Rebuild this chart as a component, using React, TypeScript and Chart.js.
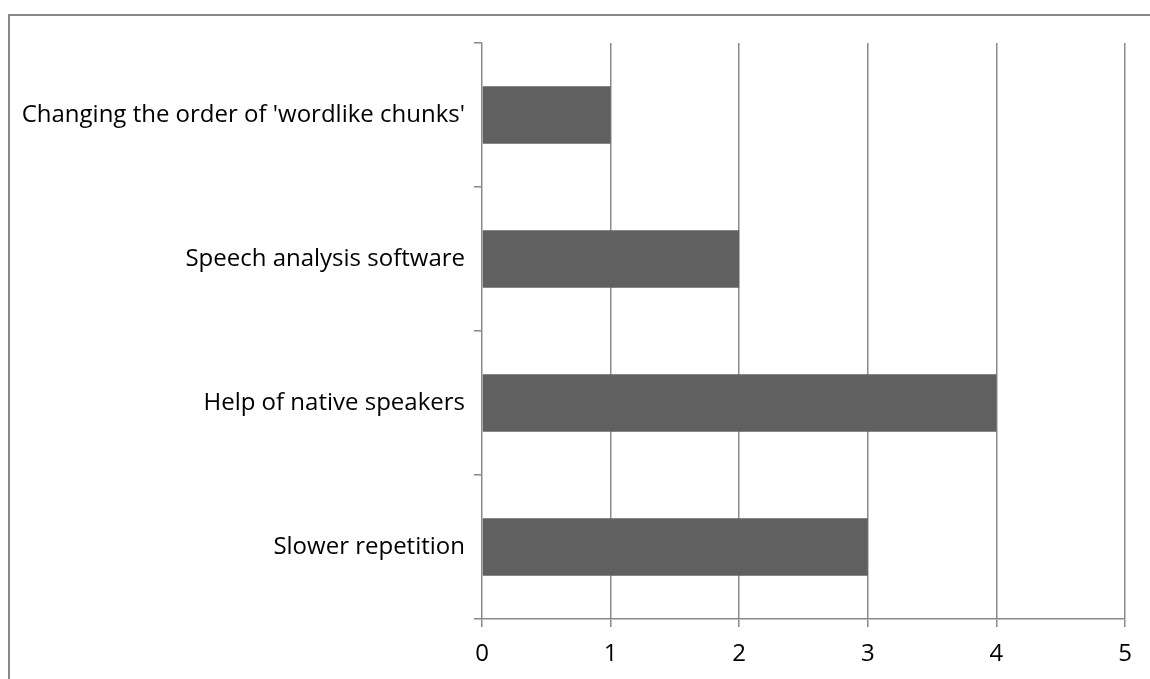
import React, { useEffect, useRef } from "react";
import { Chart, registerables } from "chart.js";

Chart.register(...registerables);

const categories = [
  "Changing the order of 'wordlike chunks'",
  "Speech analysis software",
  "Help of native speakers",
  "Slower repetition",
];
const values = [1, 2, 4, 3];
const xTicks = [0, 1, 2, 3, 4, 5];

const GRID = "#898989";
const BAR = "#606060";
const FONT = "'Open Sans', sans-serif";

export default function App() {
  const ref = useRef<HTMLCanvasElement | null>(null);

  useEffect(() => {
    if (!ref.current) return;
    const chart = new Chart(ref.current, {
      type: "bar",
      data: {
        labels: categories,
        datasets: [
          {
            data: values,
            backgroundColor: BAR,
            borderWidth: 0,
            categoryPercentage: 1,
            barPercentage: 0.4,
          },
        ],
      },
      options: {
        indexAxis: "y",
        animation: false,
        responsive: false,
        maintainAspectRatio: false,
        layout: { padding: { top: 43, right: 25, left: 0, bottom: 0 } },
        plugins: { legend: { display: false }, tooltip: { enabled: false } },
        scales: {
          x: {
            min: xTicks[0],
            max: xTicks[xTicks.length - 1],
            afterBuildTicks: (scale: any) => {
              scale.ticks = xTicks.map((v) => ({ value: v }));
            },
            afterFit: (scale: any) => {
              scale.height = 60;
            },
            grid: {
              color: GRID,
              lineWidth: 1.5,
              tickLength: 8,
              drawTicks: true,
            },
            border: { display: true, color: GRID, width: 1.5 },
            ticks: {
              color: "#000",
              font: { family: FONT, size: 24 },
              padding: 13,
            },
          },
          y: {
            afterFit: (scale: any) => {
              scale.width = 482;
            },
            grid: {
              display: true,
              drawOnChartArea: false,
              offset: true,
              color: GRID,
              lineWidth: 1.5,
              tickLength: 8,
            },
            border: { display: false },
            ticks: {
              color: "#000",
              font: { family: FONT, size: 24 },
              padding: 9,
            },
          },
        },
      },
    });
    return () => chart.destroy();
  }, []);

  return (
    <div
      style={{
        position: "absolute",
        left: 0,
        top: 0,
        width: 1150,
        height: 679,
        overflow: "hidden",
        background: "#fff",
      }}
    >
      <div
        style={{
          position: "absolute",
          left: 8,
          top: 14,
          width: 1300,
          height: 800,
          borderLeft: `2px solid ${GRID}`,
          borderTop: `2px solid ${GRID}`,
          boxSizing: "border-box",
        }}
      />
      <canvas
        ref={ref}
        width={1150}
        height={679}
        style={{ position: "absolute", left: 0, top: 0 }}
      />
    </div>
  );
}
